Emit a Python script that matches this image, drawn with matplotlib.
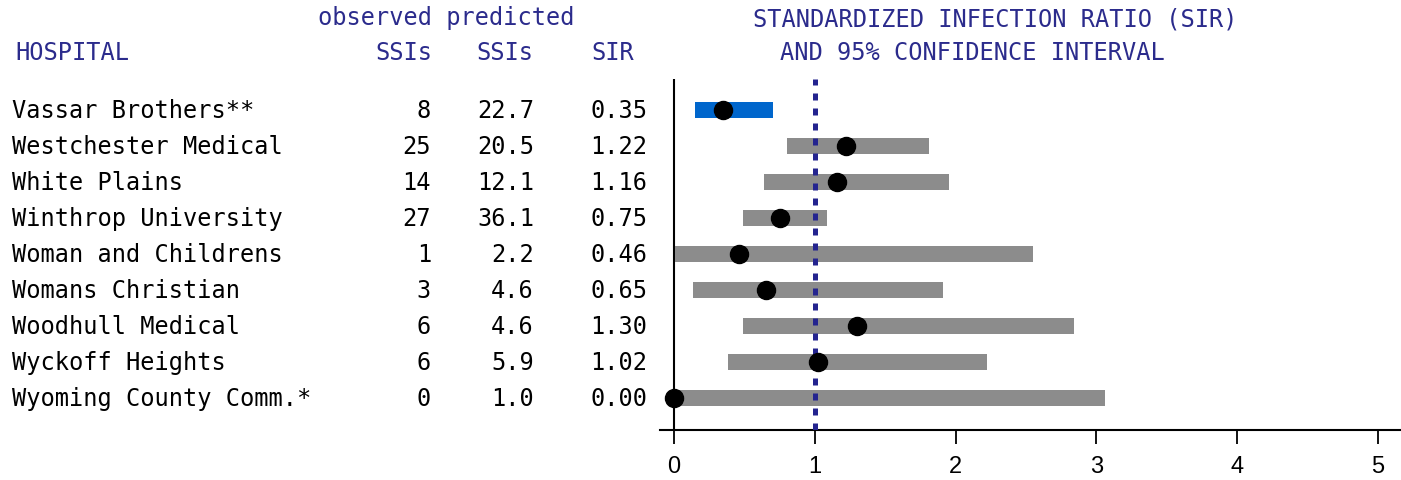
import numpy as np
import matplotlib
matplotlib.use("Agg")
from matplotlib import pyplot as plt
from matplotlib import transforms

hospitals = ["Vassar Brothers**", "Westchester Medical", "White Plains",
             "Winthrop University", "Woman and Childrens", "Womans Christian",
             "Woodhull Medical", "Wyckoff Heights", "Wyoming County Comm.*"]
observed = [8, 25, 14, 27, 1, 3, 6, 6, 0]
predicted = [22.7, 20.5, 12.1, 36.1, 2.2, 4.6, 4.6, 5.9, 1.0]
sir = [0.35, 1.22, 1.16, 0.75, 0.46, 0.65, 1.30, 1.02, 0.00]
ci_low = [0.15, 0.80, 0.64, 0.49, 0.01, 0.135, 0.49, 0.38, 0.00]
ci_high = [0.70, 1.81, 1.95, 1.09, 2.55, 1.91, 2.84, 2.22, 3.06]
xticks = [0, 1, 2, 3, 4, 5]

navy = "#2b2b8c"
W, H = 1401, 481
mono = "DejaVu Sans Mono"
fs = 17

fig = plt.figure(figsize=(W / 100, H / 100), dpi=100)
ax = fig.add_axes([660 / W, 1 - 431 / H, (W - 660) / W, (431 - 80) / H])

rows = np.arange(len(hospitals))
colors = ["#0066cc" if hi < 1 else "#8c8c8c" for hi in ci_high]
ax.barh(rows, np.array(ci_high) - np.array(ci_low), left=ci_low,
        height=0.44, color=colors, zorder=2)
ax.plot(sir, rows, "o", color="black", ms=13, zorder=4, clip_on=False)
ax.axvline(1, color="#24248f", lw=3.6, dashes=(1.4, 1.6), zorder=3)
ax.axvline(0, color="black", lw=1.5, zorder=1)

ax.set_xlim(-0.1, 5.165)
ax.set_ylim(8.889, -0.861)
ax.set_xticks(xticks)
ax.set_yticks([])
for s in ["left", "right", "top"]:
    ax.spines[s].set_visible(False)
ax.spines["bottom"].set_linewidth(1.5)
ax.tick_params(axis="x", direction="out", length=10, width=1.3, pad=8,
               labelsize=17)
for lbl in ax.get_xticklabels():
    lbl.set_family("Liberation Sans")

# table on the left, rows tied to the data y positions
tr = transforms.blended_transform_factory(fig.transFigure, ax.transData)
for i in rows:
    y = i + 0.2
    ax.text(12 / W, y, hospitals[i], transform=tr, family=mono, fontsize=fs,
            va="baseline", ha="left")
    ax.text(431 / W, y, str(observed[i]), transform=tr, family=mono,
            fontsize=fs, va="baseline", ha="right")
    ax.text(534 / W, y, f"{predicted[i]:.1f}", transform=tr, family=mono,
            fontsize=fs, va="baseline", ha="right")
    ax.text(647 / W, y, f"{sir[i]:.2f}", transform=tr, family=mono,
            fontsize=fs, va="baseline", ha="right")

def head(x, y, s, ha="left"):
    fig.text(x / W, 1 - y / H, s, family=mono, fontsize=fs, color=navy,
             ha=ha, va="baseline")

head(318, 25, "observed predicted")
head(15, 60, "HOSPITAL")
head(432, 60, "SSIs", ha="right")
head(533, 60, "SSIs", ha="right")
head(613, 60, "SIR", ha="center")
head(995, 26, "STANDARDIZED INFECTION RATIO (SIR)", ha="center")
head(972, 60, "AND 95% CONFIDENCE INTERVAL", ha="center")

fig.savefig("out.png", dpi=100)
